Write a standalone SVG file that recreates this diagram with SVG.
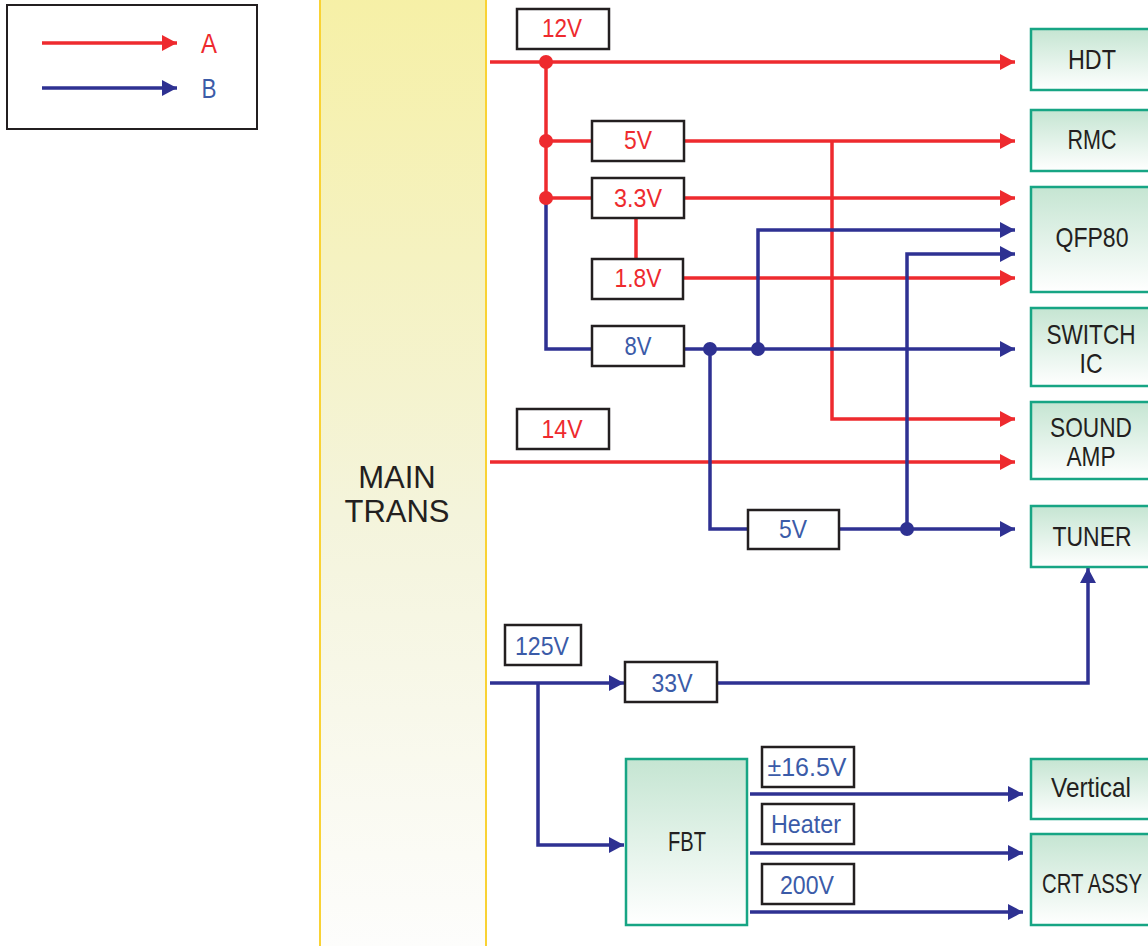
<svg xmlns="http://www.w3.org/2000/svg" width="1148" height="946" viewBox="0 0 1148 946">
<defs>
<linearGradient id="gTrans" x1="0" y1="0" x2="0" y2="1">
<stop offset="0" stop-color="#f6f0a6"/>
<stop offset="0.55" stop-color="#f4f4dc"/>
<stop offset="1" stop-color="#fdfdfc"/>
</linearGradient>
<linearGradient id="gNode" x1="0" y1="0" x2="0" y2="1">
<stop offset="0" stop-color="#c5e5d2"/>
<stop offset="1" stop-color="#ffffff"/>
</linearGradient>
<marker id="ar" markerUnits="userSpaceOnUse" markerWidth="15" markerHeight="16" refX="15" refY="8" orient="auto">
<path d="M0,0 L15,8 L0,16 z" fill="#ee2a2e"/>
</marker>
<marker id="ab" markerUnits="userSpaceOnUse" markerWidth="15" markerHeight="16" refX="15" refY="8" orient="auto">
<path d="M0,0 L15,8 L0,16 z" fill="#2e3192"/>
</marker>
</defs>
<style>
.r{stroke:#ee2a2e;stroke-width:3.5;fill:none}
.b{stroke:#2e3192;stroke-width:3.5;fill:none}
.ra{marker-end:url(#ar)}
.ba{marker-end:url(#ab)}
.dr{fill:#ee2a2e}
.db{fill:#2e3192}
.lbl{fill:#fff;stroke:#231f20;stroke-width:2.5}
.node{fill:url(#gNode);stroke:#17a584;stroke-width:2.5}
.t{font-family:"Liberation Sans Narrow","Liberation Sans",Arial,sans-serif;text-anchor:middle}
.vr{font-size:26px;fill:#ee2a2e}
.vb{font-size:26px;fill:#3b5ba8}
.nt{font-size:28px;fill:#231f20}
</style>

<g id="legend">
<rect x="7" y="5" width="250" height="124" fill="#fff" stroke="#231f20" stroke-width="2"/>
<line x1="42" y1="43" x2="177" y2="43" class="r ra"/>
<line x1="42" y1="88" x2="177" y2="88" class="b ba"/>
<text x="209" y="53" class="t" font-size="27" fill="#ee2a2e" textLength="16" lengthAdjust="spacingAndGlyphs">A</text>
<text x="209" y="98" class="t" font-size="27" fill="#3b5ba8" textLength="15" lengthAdjust="spacingAndGlyphs">B</text>
</g>

<g id="main-trans">
<rect x="320" y="-3" width="166" height="952" fill="url(#gTrans)" stroke="#f9d234" stroke-width="2"/>
<text x="397" y="488" font-family="'Liberation Sans',Arial,sans-serif" font-size="31" fill="#231f20" text-anchor="middle">MAIN</text>
<text x="397" y="522" font-family="'Liberation Sans',Arial,sans-serif" font-size="31" fill="#231f20" text-anchor="middle">TRANS</text>
</g>

<g id="connectors">
<line x1="490" y1="62" x2="1015" y2="62" class="r ra"/>
<line x1="546" y1="62" x2="546" y2="198" class="r"/>
<line x1="546" y1="141" x2="592" y2="141" class="r"/>
<line x1="684" y1="141" x2="1015" y2="141" class="r ra"/>
<line x1="546" y1="198" x2="592" y2="198" class="r"/>
<line x1="684" y1="198" x2="1015" y2="198" class="r ra"/>
<line x1="636" y1="218" x2="636" y2="259" class="r"/>
<line x1="684" y1="278" x2="1015" y2="278" class="r ra"/>
<polyline points="832,141 832,419 1015,419" class="r ra"/>
<line x1="490" y1="462" x2="1015" y2="462" class="r ra"/>
<polyline points="546,198 546,349 592,349" class="b"/>
<line x1="684" y1="349" x2="1015" y2="349" class="b ba"/>
<polyline points="758,349 758,230 1015,230" class="b ba"/>
<polyline points="907,529 907,254 1015,254" class="b ba"/>
<polyline points="710,349 710,529 748,529" class="b"/>
<line x1="839" y1="529" x2="1015" y2="529" class="b ba"/>
<line x1="490" y1="683" x2="624" y2="683" class="b ba"/>
<polyline points="717,683 1088,683 1088,568" class="b ba"/>
<polyline points="538,683 538,845 624,845" class="b ba"/>
<line x1="750" y1="794" x2="1023" y2="794" class="b ba"/>
<line x1="750" y1="853" x2="1023" y2="853" class="b ba"/>
<line x1="750" y1="912" x2="1023" y2="912" class="b ba"/>
<circle cx="546" cy="62" r="7" class="dr"/>
<circle cx="546" cy="141" r="7" class="dr"/>
<circle cx="546" cy="198" r="7" class="dr"/>
<circle cx="710" cy="349" r="7" class="db"/>
<circle cx="758" cy="349" r="7" class="db"/>
<circle cx="907" cy="529" r="7" class="db"/>
</g>

<g id="v12"><rect x="517" y="9" width="92" height="40" class="lbl"/><text x="562" y="37" class="t vr" textLength="40" lengthAdjust="spacingAndGlyphs">12V</text></g>
<g id="v5a"><rect x="592" y="121" width="92" height="40" class="lbl"/><text x="638" y="149" class="t vr" textLength="28" lengthAdjust="spacingAndGlyphs">5V</text></g>
<g id="v33"><rect x="592" y="178" width="92" height="40" class="lbl"/><text x="638" y="207" class="t vr" textLength="48" lengthAdjust="spacingAndGlyphs">3.3V</text></g>
<g id="v18"><rect x="592" y="259" width="91" height="40" class="lbl"/><text x="638" y="287" class="t vr" textLength="47" lengthAdjust="spacingAndGlyphs">1.8V</text></g>
<g id="v8"><rect x="592" y="326" width="92" height="40" class="lbl"/><text x="638" y="355" class="t vb" textLength="27" lengthAdjust="spacingAndGlyphs">8V</text></g>
<g id="v14"><rect x="517" y="409" width="92" height="40" class="lbl"/><text x="562" y="438" class="t vr" textLength="41" lengthAdjust="spacingAndGlyphs">14V</text></g>
<g id="v5b"><rect x="748" y="510" width="91" height="39" class="lbl"/><text x="793" y="538" class="t vb" textLength="28" lengthAdjust="spacingAndGlyphs">5V</text></g>
<g id="v125"><rect x="505" y="625" width="76" height="40" class="lbl"/><text x="542" y="655" class="t vb" textLength="54" lengthAdjust="spacingAndGlyphs">125V</text></g>
<g id="v33b"><rect x="625" y="662" width="92" height="40" class="lbl"/><text x="672" y="692" class="t vb" textLength="41" lengthAdjust="spacingAndGlyphs">33V</text></g>
<g id="v165"><rect x="762" y="747" width="92" height="40" class="lbl"/><text x="807" y="776" class="t vb" textLength="79" lengthAdjust="spacingAndGlyphs">±16.5V</text></g>
<g id="vheater"><rect x="762" y="804" width="92" height="40" class="lbl"/><text x="806" y="833" class="t vb" textLength="70" lengthAdjust="spacingAndGlyphs">Heater</text></g>
<g id="v200"><rect x="762" y="864" width="92" height="40" class="lbl"/><text x="807" y="894" class="t vb" textLength="54" lengthAdjust="spacingAndGlyphs">200V</text></g>

<g id="hdt"><rect x="1031" y="29" width="130" height="61" class="node"/><text x="1092" y="69" class="t nt" textLength="48" lengthAdjust="spacingAndGlyphs">HDT</text></g>
<g id="rmc"><rect x="1031" y="110" width="130" height="61" class="node"/><text x="1092" y="149" class="t nt" textLength="49" lengthAdjust="spacingAndGlyphs">RMC</text></g>
<g id="qfp80"><rect x="1031" y="187" width="130" height="105" class="node"/><text x="1092" y="247" class="t nt" textLength="73" lengthAdjust="spacingAndGlyphs">QFP80</text></g>
<g id="switch-ic"><rect x="1031" y="308" width="130" height="78" class="node"/><text x="1091" y="344" class="t nt" textLength="89" lengthAdjust="spacingAndGlyphs">SWITCH</text><text x="1091" y="373" class="t nt" textLength="23" lengthAdjust="spacingAndGlyphs">IC</text></g>
<g id="sound-amp"><rect x="1031" y="402" width="130" height="77" class="node"/><text x="1091" y="437" class="t nt" textLength="82" lengthAdjust="spacingAndGlyphs">SOUND</text><text x="1091" y="466" class="t nt" textLength="49" lengthAdjust="spacingAndGlyphs">AMP</text></g>
<g id="tuner"><rect x="1031" y="506" width="130" height="61" class="node"/><text x="1092" y="546" class="t nt" textLength="79" lengthAdjust="spacingAndGlyphs">TUNER</text></g>
<g id="fbt"><rect x="626" y="759" width="121" height="166" class="node"/><text x="687" y="851" class="t nt" textLength="38" lengthAdjust="spacingAndGlyphs">FBT</text></g>
<g id="vertical"><rect x="1031" y="759" width="130" height="60" class="node"/><text x="1091" y="797" class="t nt" textLength="80" lengthAdjust="spacingAndGlyphs">Vertical</text></g>
<g id="crt-assy"><rect x="1031" y="834" width="130" height="91" class="node"/><text x="1092" y="893" class="t nt" textLength="100" lengthAdjust="spacingAndGlyphs">CRT ASSY</text></g>
</svg>
